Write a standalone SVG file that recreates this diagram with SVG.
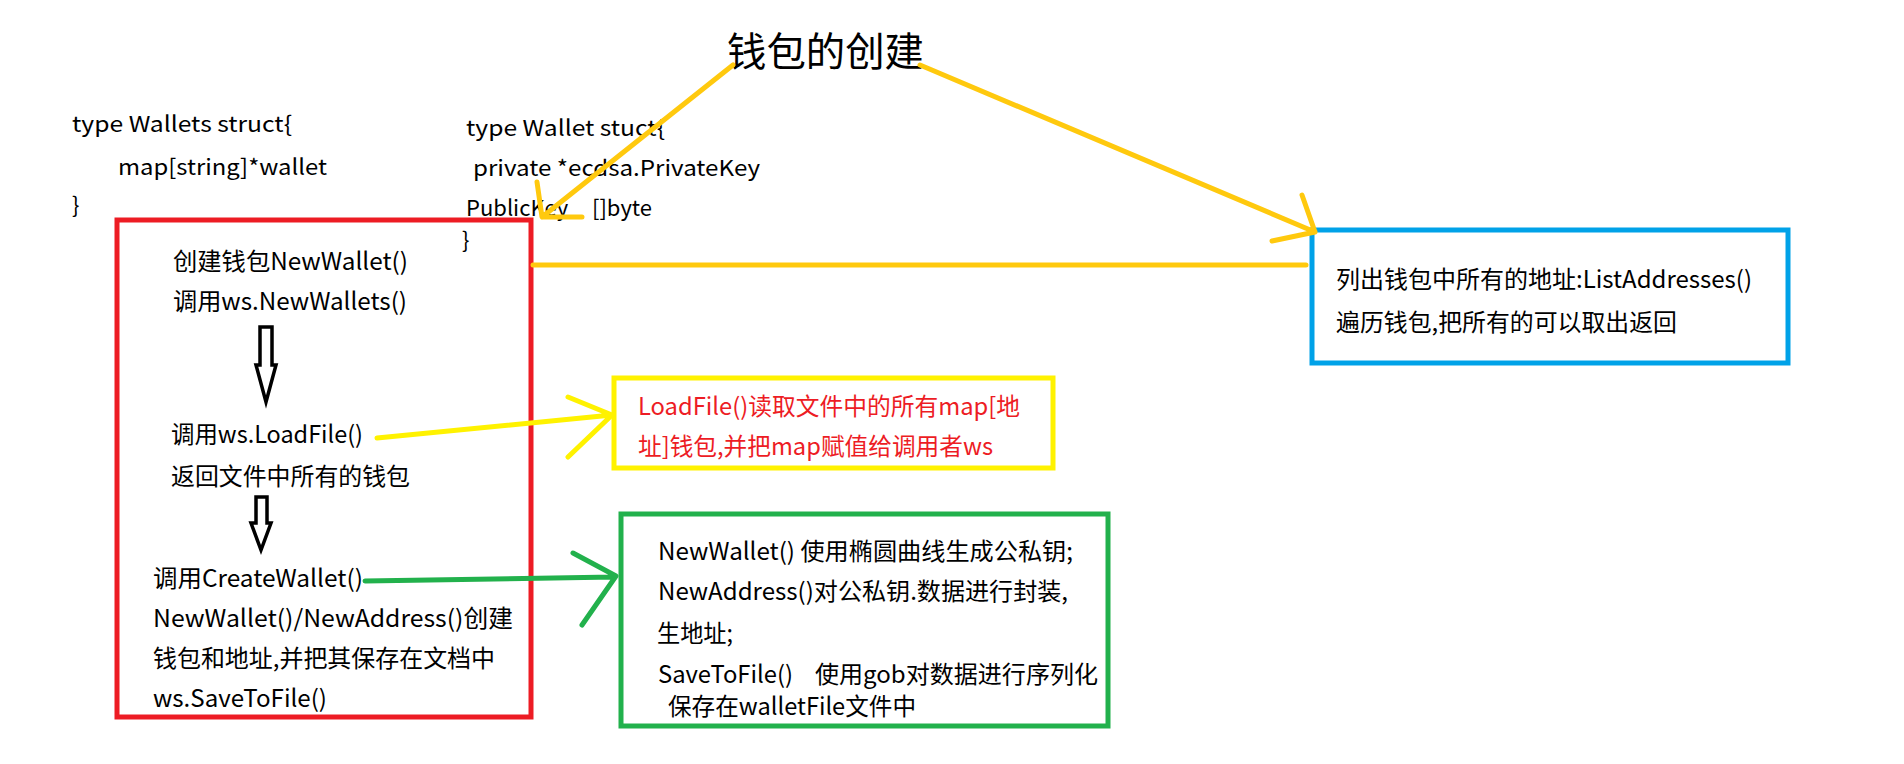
<svg xmlns="http://www.w3.org/2000/svg" width="1904" height="764" viewBox="0 0 1904 764">
<style>
text{font-family:"Noto Sans CJK SC","Noto Sans",sans-serif;fill:#000;white-space:pre}
.code{font-size:22px}
.t{font-size:24px}
.red{fill:#ED1C24}
.box{fill:none;stroke-width:5}
.c{fill:none;stroke-linecap:round;stroke-linejoin:round}
.gold{stroke:#FFC90E;stroke-width:5}
.yel{stroke:#FFF200;stroke-width:5}
.grn{stroke:#22B14C;stroke-width:5}
.blk{fill:#fff;stroke:#000;stroke-width:3.5;stroke-linejoin:miter}
</style>
<rect width="1904" height="764" fill="#fff"/>
<g id="title"><text x="727" y="66" style="font-size:40px" textLength="197" lengthAdjust="spacingAndGlyphs">钱包的创建</text></g>
<g id="wallets-struct" class="code">
<text x="72" y="132" textLength="220" lengthAdjust="spacingAndGlyphs">type Wallets struct{</text>
<text x="118" y="175" textLength="209" lengthAdjust="spacingAndGlyphs">map[string]*wallet</text>
<text x="72" y="213">}</text>
</g>
<g id="wallet-struct" class="code">
<text x="466" y="136" textLength="199" lengthAdjust="spacingAndGlyphs">type Wallet stuct{</text>
<text x="473" y="176" textLength="287" lengthAdjust="spacingAndGlyphs">private *ecdsa.PrivateKey</text>
<text x="466" y="216">PublicKey  <tspan x="592">[]byte</tspan></text>
<text x="462" y="248">}</text>
</g>
<g id="create-box">
<rect class="box" x="117" y="220" width="414" height="497" stroke="#ED1C24"/>
<g class="t">
<text x="173" y="270" textLength="235" lengthAdjust="spacingAndGlyphs">创建钱包NewWallet()</text>
<text x="173" y="310" textLength="234" lengthAdjust="spacingAndGlyphs">调用ws.NewWallets()</text>
<text x="171" y="443" textLength="192" lengthAdjust="spacingAndGlyphs">调用ws.LoadFile()</text>
<text x="171" y="485" textLength="239" lengthAdjust="spacingAndGlyphs">返回文件中所有的钱包</text>
<text x="153" y="587" textLength="210" lengthAdjust="spacingAndGlyphs">调用CreateWallet()</text>
<text x="153" y="627" textLength="360" lengthAdjust="spacingAndGlyphs">NewWallet()/NewAddress()创建</text>
<text x="153" y="667" textLength="342" lengthAdjust="spacingAndGlyphs">钱包和地址,并把其保存在文档中</text>
<text x="153" y="707" textLength="174" lengthAdjust="spacingAndGlyphs">ws.SaveToFile()</text>
</g>
<polygon class="blk" points="260,327 272,327 272,365 276,365 266,402 256,365 260,365"/>
<polygon class="blk" points="256,497 267,497 267,523 271,523 261,550 251,523 256,523"/>
</g>
<g id="loadfile-box">
<rect class="box" x="614" y="378" width="439" height="90" stroke="#FFF200"/>
<text class="t red" x="638" y="415" textLength="382" lengthAdjust="spacingAndGlyphs">LoadFile()读取文件中的所有map[地</text>
<text class="t red" x="638" y="455" textLength="355" lengthAdjust="spacingAndGlyphs">址]钱包,并把map赋值给调用者ws</text>
</g>
<g id="newwallet-box" class="t">
<rect class="box" x="621" y="514" width="487" height="212" stroke="#22B14C"/>
<text x="658" y="560" textLength="415" lengthAdjust="spacingAndGlyphs">NewWallet() 使用椭圆曲线生成公私钥;</text>
<text x="658" y="600" textLength="410" lengthAdjust="spacingAndGlyphs">NewAddress()对公私钥.数据进行封装,</text>
<text x="657" y="642" textLength="76" lengthAdjust="spacingAndGlyphs">生地址;</text>
<text x="658" y="683" textLength="135" lengthAdjust="spacingAndGlyphs">SaveToFile()</text>
<text x="815" y="683" textLength="283" lengthAdjust="spacingAndGlyphs">使用gob对数据进行序列化</text>
<text x="668" y="715" textLength="248" lengthAdjust="spacingAndGlyphs">保存在walletFile文件中</text>
</g>
<g id="list-box" class="t">
<rect class="box" x="1312" y="230" width="476" height="133" stroke="#00A2E8"/>
<text x="1336" y="288" textLength="416" lengthAdjust="spacingAndGlyphs">列出钱包中所有的地址:ListAddresses()</text>
<text x="1336" y="331" textLength="341" lengthAdjust="spacingAndGlyphs">遍历钱包,把所有的可以取出返回</text>
</g>
<g id="connectors">
<path class="c gold" d="M733,65 L542,217 M537,182 L542,217 L582,217"/>
<path class="c gold" d="M920,65 L1315,232 M1302,195 L1315,232 L1272,241"/>
<path class="c gold" d="M533,265 L1306,265"/>
<path class="c yel" d="M377,438 L612,415 M568,397 L612,415 L568,457"/>
<path class="c grn" d="M365,581 L614,577 M573,553 L616,576 L582,625"/>
</g>
</svg>
